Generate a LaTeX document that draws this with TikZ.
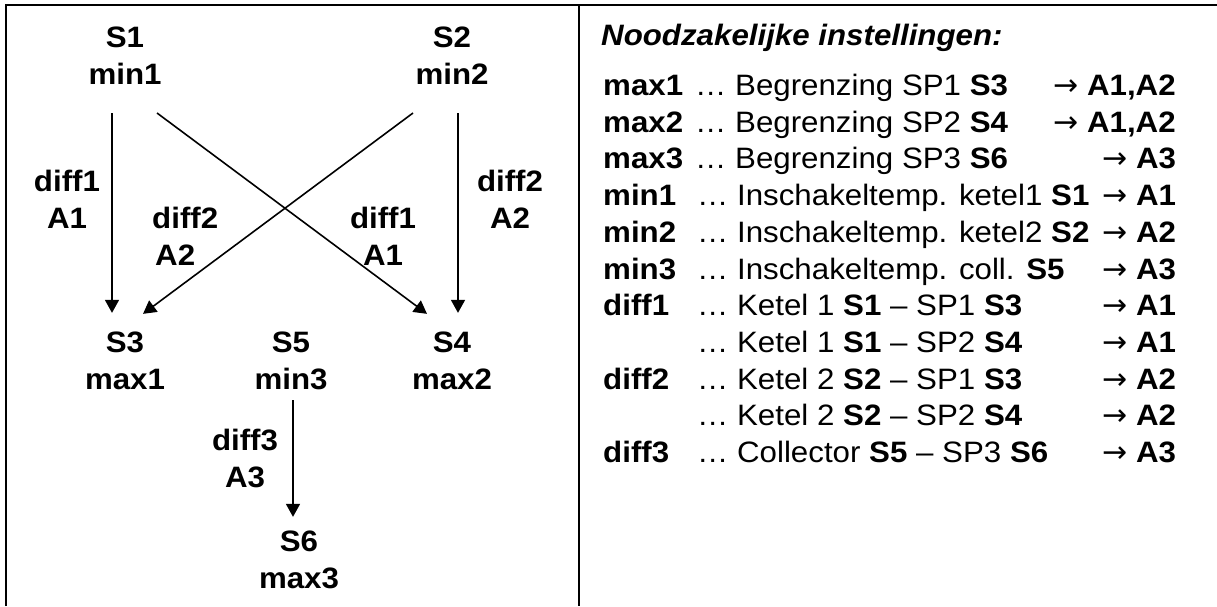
\documentclass[tikz,border=0pt]{standalone}
\usepackage{fontspec}
\setmainfont{Liberation Sans}[FakeStretch=1.06]
\newfontfamily\symfont{DejaVu Sans}
\usetikzlibrary{arrows.meta}
\newcommand{\rarr}{{\symfont\fontsize{30}{30}\selectfont →}}
\begin{document}
\begin{tikzpicture}[x=1pt,y=-1pt,
  lbl/.style={font=\fontsize{29.5}{37}\selectfont\bfseries,align=center,inner sep=0pt},
  key/.style={font=\fontsize{29.5}{37}\selectfont\bfseries,anchor=base west,inner sep=0pt},
  txt/.style={font=\fontsize{29.5}{37}\selectfont,anchor=base west,inner sep=0pt},
  arr/.style={line width=1.6pt,-{Triangle[length=13pt,width=14pt]}},
  frame/.style={line width=2.2pt}]
\useasboundingbox (0,0) rectangle (1217,606);
% frame
\draw[frame] (6,606) -- (6,5) -- (1217,5);
\draw[frame] (579,5) -- (579,606);
% left diagram
\node[lbl] (s1) at (125,56) {S1\\min1};
\node[lbl] (s2) at (452,56) {S2\\min2};
\node[lbl] (s3) at (125,361) {S3\\max1};
\node[lbl] (s5) at (291,361) {S5\\min3};
\node[lbl] (s4) at (452,361) {S4\\max2};
\node[lbl] (s6) at (299,560) {S6\\max3};
\node[lbl] (l1) at (67,199) {diff1\\A1};
\node[lbl] (l2) at (510,199) {diff2\\A2};
\node[lbl,align=left,anchor=west] (l3) at (152,236) {diff2\\\hspace{3pt}A2};
\node[lbl] (l4) at (383,236) {diff1\\A1};
\node[lbl] (l5) at (245,458) {diff3\\A3};
\draw[arr] ([shift={(-13,28)}]s1.south) -- ([shift={(-13,-19)}]s3.north);
\draw[arr] ([shift={(32,28)}]s1.south) -- ([shift={(-25,-18)}]s4.north);
\draw[arr] ([shift={(-39,28)}]s2.south) -- ([shift={(18,-18)}]s3.north);
\draw[arr] ([shift={(6,28)}]s2.south) -- ([shift={(6,-19)}]s4.north);
\draw[arr] ([shift={(2,10)}]s5.south) -- ([shift={(-6,-14)}]s6.north);
% right panel
\node[key,font=\fontsize{29.5}{37}\selectfont\bfseries\itshape] (title) at (601,45.5) {Noodzakelijke instellingen:};
\node[key] (k0) at (603,95.5) {max1};
\node[txt] (m0) at (695,95.5) {… Begrenzing SP1 \textbf{S3}};
\node[txt] (a0) at (1053,95.5) {\rarr\ \textbf{A1,A2}};
\node[key] (k1) at (603,132.2) {max2};
\node[txt] (m1) at (695,132.2) {… Begrenzing SP2 \textbf{S4}};
\node[txt] (a1) at (1053,132.2) {\rarr\ \textbf{A1,A2}};
\node[key] (k2) at (603,168.9) {max3};
\node[txt] (m2) at (695,168.9) {… Begrenzing SP3 \textbf{S6}};
\node[txt] (a2) at (1102,168.9) {\rarr\ \textbf{A3}};
\node[key] (k3) at (603,205.6) {min1};
\node[txt] (m3) at (697,205.6) {… Inschakeltemp. ketel1 \textbf{S1}};
\node[txt] (a3) at (1102,205.6) {\rarr\ \textbf{A1}};
\node[key] (k4) at (603,242.3) {min2};
\node[txt] (m4) at (697,242.3) {… Inschakeltemp. ketel2 \textbf{S2}};
\node[txt] (a4) at (1102,242.3) {\rarr\ \textbf{A2}};
\node[key] (k5) at (603,279) {min3};
\node[txt] (m5) at (697,279) {… Inschakeltemp. coll. \textbf{S5}};
\node[txt] (a5) at (1102,279) {\rarr\ \textbf{A3}};
\node[key] (k6) at (603,315.7) {diff1};
\node[txt] (m6) at (697,315.7) {… Ketel 1 \textbf{S1} – SP1 \textbf{S3}};
\node[txt] (a6) at (1102,315.7) {\rarr\ \textbf{A1}};
\node[txt] (m7) at (697,352.4) {… Ketel 1 \textbf{S1} – SP2 \textbf{S4}};
\node[txt] (a7) at (1102,352.4) {\rarr\ \textbf{A1}};
\node[key] (k8) at (603,389.1) {diff2};
\node[txt] (m8) at (697,389.1) {… Ketel 2 \textbf{S2} – SP1 \textbf{S3}};
\node[txt] (a8) at (1102,389.1) {\rarr\ \textbf{A2}};
\node[txt] (m9) at (697,425.8) {… Ketel 2 \textbf{S2} – SP2 \textbf{S4}};
\node[txt] (a9) at (1102,425.8) {\rarr\ \textbf{A2}};
\node[key] (k10) at (603,462.5) {diff3};
\node[txt] (m10) at (697,462.5) {… Collector \textbf{S5} – SP3 \textbf{S6}};
\node[txt] (a10) at (1102,462.5) {\rarr\ \textbf{A3}};
\end{tikzpicture}
\end{document}
